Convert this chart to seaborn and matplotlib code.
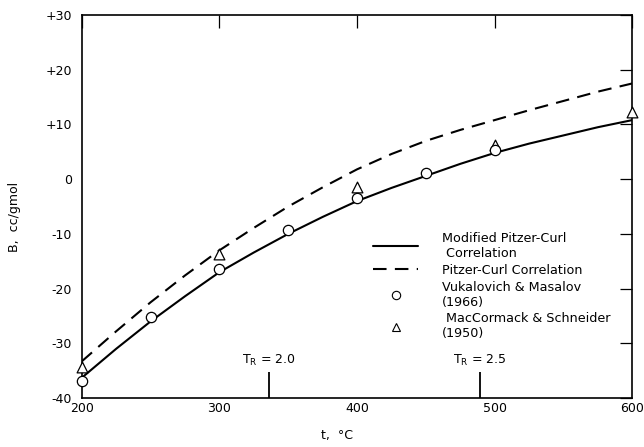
import matplotlib
matplotlib.use("Agg")
import matplotlib.pyplot as plt
from matplotlib.lines import Line2D
import numpy as np
import pandas as pd
import seaborn as sns

# curves (t in degC, B in cc/gmol)
t_curve = [200, 225, 250, 275, 300, 325, 350, 375, 400, 425, 450, 475, 500, 525, 550, 575, 600]
b_modified = [-36.3, -31.0, -26.0, -21.4, -17.0, -13.4, -10.0, -6.9, -4.0,
              -1.6, 0.6, 2.8, 4.8, 6.5, 8.0, 9.5, 10.8]
b_pitzer = [-33.3, -27.8, -22.5, -17.6, -13.0, -8.9, -5.0, -1.5, 1.8,
            4.6, 7.0, 9.0, 10.8, 12.6, 14.3, 16.0, 17.5]

# Vukalovich & Masalov (1966)
t_vuk = [200, 250, 300, 350, 400, 450, 500]
b_vuk = [-36.8, -25.2, -16.4, -9.3, -3.5, 1.1, 5.3]

# MacCormack & Schneider (1950)
t_mac = [200, 300, 400, 500, 600]
b_mac = [-34.4, -13.7, -1.4, 6.3, 12.3]

# reduced temperature marks
tr_t = [336, 489]
tr_labels = ["$\\mathregular{T_R}$ = 2.0", "$\\mathregular{T_R}$ = 2.5"]

yticks = [-40, -30, -20, -10, 0, 10, 20, 30]
ytick_labels = ["-40", "-30", "-20", "-10", "0", "+10", "+20", "+30"]
xticks = [200, 300, 400, 500, 600]

sns.set_style("white")
plt.rcParams['font.family'] = ['DejaVu Sans']
plt.rcParams['text.color'] = 'black'

fig = plt.figure(figsize=(6.44, 4.47), dpi=100)
ax = fig.add_axes([0.127, 0.1096, 0.855, 0.8568])

curves = pd.DataFrame({'t': t_curve, 'mod': b_modified, 'pc': b_pitzer})
sns.lineplot(data=curves, x='t', y='mod', ax=ax, color='black', lw=1.5)
sns.lineplot(data=curves, x='t', y='pc', ax=ax, color='black', lw=1.5)
ax.lines[-1].set_dashes((6.5, 4))

sns.scatterplot(x=t_vuk, y=b_vuk, ax=ax, marker='o', s=55, facecolor='white',
                edgecolor='black', linewidth=0.9, zorder=5, clip_on=False)
sns.scatterplot(x=t_mac, y=b_mac, ax=ax, marker='^', s=60, facecolor='white',
                edgecolor='black', linewidth=0.9, zorder=4, clip_on=False)

ax.vlines(tr_t, -40, -35.3, color='black', lw=1.3)
for x, lab in zip(tr_t, tr_labels):
    ax.text(x, -34.6, lab, ha='center', va='bottom', fontsize=9)

ax.set_xlim(200, 600)
ax.set_ylim(-40, 30)
ax.set_xticks(xticks)
ax.set_yticks(yticks)
ax.set_yticklabels(ytick_labels)
ax.tick_params(direction='in', length=9, width=0.9, color='black',
               labelcolor='black', top=True, right=True, labelsize=9)
ax.tick_params(axis='y', pad=7)
ax.tick_params(axis='x', pad=3)
for sp in ax.spines.values():
    sp.set_visible(True)
    sp.set_color('black')
    sp.set_linewidth(1.2)

ax.set_xlabel("t,  \u00b0C", fontsize=9, color='black')
ax.set_ylabel("B,  cc/gmol", fontsize=9, color='black')
ax.xaxis.set_label_coords(0.464, -0.082)
ax.yaxis.set_label_coords(-0.11, 0.473)

handles = [
    Line2D([], [], color='black', lw=1.5),
    Line2D([], [], color='black', lw=1.5, dashes=(6.5, 4)),
    Line2D([], [], ls='none', marker='o', mfc='white', mec='black', ms=6, mew=0.8),
    Line2D([], [], ls='none', marker='^', mfc='white', mec='black', ms=6, mew=0.8),
]
labels = ["Modified Pitzer-Curl\n Correlation", "Pitzer-Curl Correlation",
          "Vukalovich & Masalov\n(1966)", " MacCormack & Schneider\n(1950)"]
ax.legend(handles, labels, loc='upper left', bbox_to_anchor=(0.52, 0.447),
          frameon=False, fontsize=9.2, handlelength=3.5, handletextpad=1.85,
          labelspacing=0.3, borderaxespad=0)

fig.savefig("out.png", dpi=100)
